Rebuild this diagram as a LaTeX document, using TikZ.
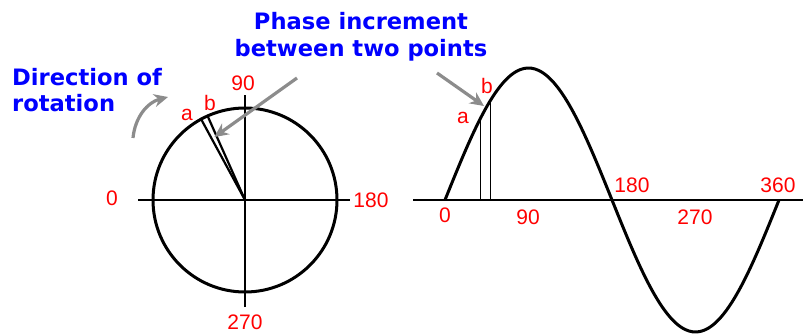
\documentclass[tikz,border=0pt]{standalone}
\usepackage{fontspec}
\setmainfont{Liberation Sans}
\setsansfont{DejaVu Sans}
\usetikzlibrary{arrows.meta,calc}

\begin{document}
\begin{tikzpicture}[
    x=1pt, y=1pt,
    numlbl/.style={text=red, inner sep=0pt, font=\fontsize{21}{21}\selectfont},
    bluetxt/.style={text=blue, inner sep=0pt, font=\sffamily\bfseries\fontsize{22.6}{26.5}\selectfont},
    grayarrow/.style={-{Stealth[length=14pt, width=13pt]}, line width=3.2pt, draw=gray!90},
    axisline/.style={line width=2.6pt},
    curveline/.style={line width=3pt}
  ]
  \useasboundingbox (0,0) rectangle (803,335);
  % phasor circle
  \coordinate (ctr) at (245,135);
  \draw[curveline] (ctr) circle[radius=92];
  \coordinate (cwest) at (138,135);
  \coordinate (ceast) at (350,135);
  \coordinate (cnorth) at (245,240);
  \coordinate (csouth) at (245,28);
  \draw[axisline] (cwest) -- (ceast);
  \draw[axisline] (csouth) -- (cnorth);
  \coordinate (pa) at ($(ctr)+(118.5:92)$);
  \coordinate (pb) at ($(ctr)+(114:92)$);
  \draw[line width=2.2pt] (ctr) -- (pa);
  \draw[line width=2.2pt] (ctr) -- (pb);
  \node[numlbl] (c0) at (112,137) {0};
  \node[numlbl] (c180) at (371,135) {180};
  \node[numlbl] (c90) at (243,252) {90};
  \node[numlbl] (c270) at (245,13) {270};
  \node[numlbl] (ca) at (187,220) {a};
  \node[numlbl] (cb) at (210,232) {b};
  % sine wave
  \coordinate (swest) at (413,135);
  \coordinate (seast) at (803,135);
  \draw[axisline] (swest) -- (seast);
  \draw[curveline] plot[domain=0:360, samples=90, smooth] ({445+0.92778*\x}, {135+132*sin(\x)});
  \coordinate (sa) at (480,{135+132*sin(37.7)});
  \coordinate (sb) at (490,{135+132*sin(48.5)});
  \draw[line width=0.9pt] (sa) -- (sa |- swest);
  \draw[line width=0.9pt] (sb) -- (sb |- swest);
  \node[numlbl] (s0) at (445,120) {0};
  \node[numlbl] (s90) at (528,118) {90};
  \node[numlbl] (s180) at (632,150) {180};
  \node[numlbl] (s270) at (695,118) {270};
  \node[numlbl] (s360) at (778,150) {360};
  \node[numlbl] (sla) at (463,217) {a};
  \node[numlbl] (slb) at (487,249) {b};
  % captions
  \node[bluetxt, align=left, anchor=west] (rot) at (12,245) {Direction of\\rotation};
  \node[bluetxt, align=center] (inc) at (361,298) {Phase increment\\between two points};
  \coordinate (rtail) at (133,197);
  \coordinate (rhead) at (168,238);
  \draw[grayarrow] (rtail) to[bend left=35] (rhead);
  \coordinate (ctail) at (297,257);
  \draw[grayarrow] (ctail) -- ($(ctr)+(116:70)$);
  \coordinate (stail) at (437,262);
  \draw[grayarrow] (stail) -- (484,229);
\end{tikzpicture}
\end{document}
